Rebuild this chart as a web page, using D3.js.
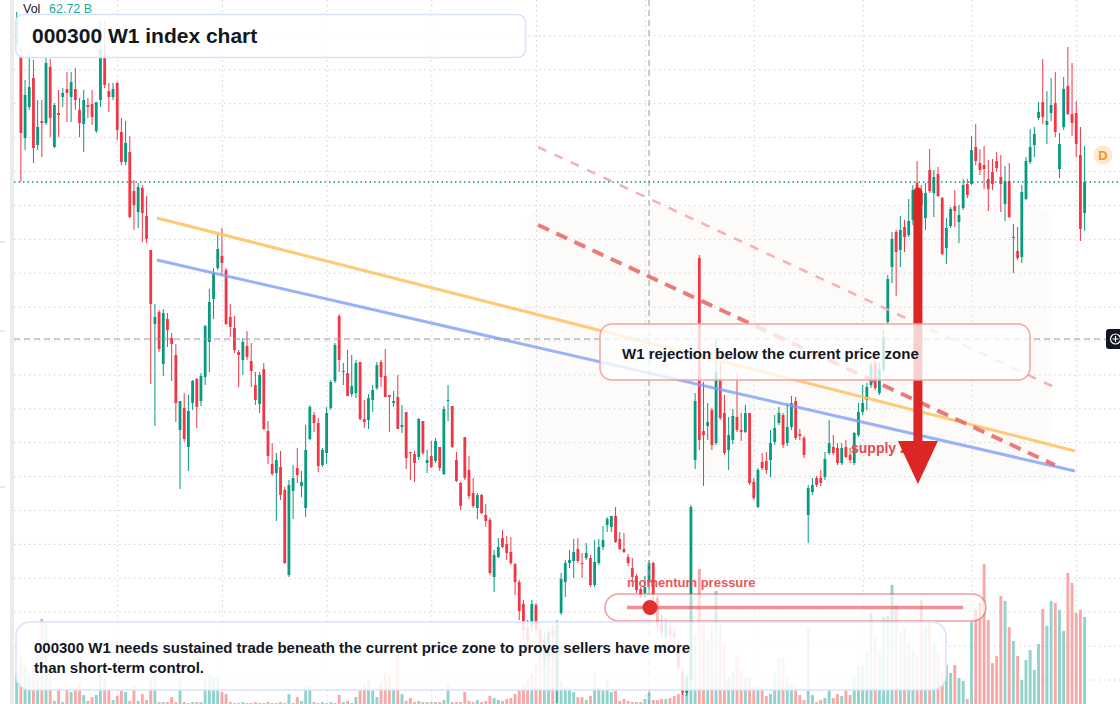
<!DOCTYPE html>
<html>
<head>
<meta charset="utf-8">
<script src="https://cdn.jsdelivr.net/npm/d3@7"></script>
<style>
  body { margin: 0; background: #fff; }
  svg { display: block; font-family: "Liberation Sans", Arial, Helvetica, sans-serif; }
</style>
</head>
<body>
<div id="chart"></div>
<script>
// weekly candles, 000300 W1 (index points)
const open = [3555,3543,3462,3493,3522,3455,3479,3477,3533,3453,
  3487,3503,3511,3503,3511,3490,3476,3495,3496,3469,
  3500,3542,3509,3503,3517,3468,3438,3448,3409,3388,
  3412,3384,3350,3276,3288,3236,3281,3262,3245,3170,
  3192,3153,3197,3221,3199,3223,3258,3301,3332,3344,
  3330,3283,3272,3248,3240,3254,3239,3215,3196,3231,
  3169,3136,3127,3133,3110,3025,3109,3132,3114,3092,
  3161,3185,3177,3135,3147,3192,3219,3284,3228,3227,
  3206,3207,3238,3181,3180,3200,3212,3238,3224,3205,
  3197,3203,3173,3188,3148,3146,3143,3179,3137,3144,
  3139,3153,3126,3199,3194,3140,3117,3163,3130,3107,
  3092,3105,3085,3080,3023,3043,3062,3056,3048,3036,
  3018,2996,2972,2973,2995,2970,2940,2943,2970,2910,
  2987,3018,3037,3039,3051,3037,3042,3042,3015,3037,
  3053,3075,3073,3084,3061,3051,3043,3032,3024,3011,
  3007,3017,3037,3002,2978,2963,2973,2967,2953,2928,
  2907,2920,3140,3342,3169,3174,3190,3157,3220,3187,
  3150,3160,3183,3170,3168,3187,3118,3093,3138,3139,
  3140,3158,3177,3185,3157,3173,3199,3166,3162,3085,
  3108,3122,3122,3123,3147,3153,3152,3137,3153,3145,
  3137,3165,3188,3200,3215,3237,3207,3230,3278,3333,
  3368,3350,3373,3365,3380,3417,3407,3382,3430,3407,
  3426,3402,3352,3374,3394,3378,3392,3416,3416,3453,
  3437,3435,3421,3428,3439,3423,3396,3419,3362,3349,
  3343,3401,3438,3455,3482,3498,3475,3487,3497,3431,
  3473,3514,3486,3487,3445,3387];

const high = [3588,3553,3520,3550,3540,3500,3500,3542,3541,3497,
  3510,3512,3528,3528,3532,3502,3510,3502,3510,3498,
  3580,3580,3517,3517,3518,3482,3479,3464,3420,3417,
  3415,3404,3350,3296,3290,3291,3287,3267,3256,3199,
  3207,3205,3220,3222,3227,3275,3311,3332,3367,3372,
  3332,3296,3284,3250,3262,3269,3257,3228,3228,3237,
  3179,3157,3147,3149,3113,3120,3135,3152,3129,3175,
  3195,3188,3182,3152,3193,3220,3257,3286,3237,3250,
  3245,3240,3238,3200,3206,3215,3238,3240,3251,3205,
  3209,3225,3195,3188,3148,3149,3182,3179,3150,3159,
  3162,3153,3194,3215,3194,3148,3118,3163,3144,3122,
  3107,3106,3096,3082,3050,3062,3070,3064,3063,3037,
  3020,3000,2980,3000,2997,2975,2968,2972,2975,2980,
  3027,3040,3050,3061,3062,3047,3057,3045,3060,3061,
  3074,3083,3084,3093,3068,3067,3046,3042,3026,3013,
  3024,3040,3038,3004,2985,2982,2978,2972,2960,2932,
  2926,3095,3207,3345,3218,3197,3192,3260,3238,3205,
  3183,3191,3227,3187,3195,3187,3122,3132,3147,3148,
  3170,3185,3193,3187,3197,3204,3203,3171,3164,3115,
  3122,3124,3130,3148,3180,3165,3157,3157,3160,3152,
  3168,3197,3215,3217,3238,3240,3237,3270,3325,3368,
  3370,3384,3380,3401,3415,3439,3415,3417,3451,3430,
  3433,3403,3382,3393,3410,3395,3421,3421,3464,3476,
  3451,3454,3440,3441,3448,3445,3434,3437,3376,3373,
  3415,3443,3471,3473,3498,3541,3509,3522,3528,3467,
  3523,3553,3537,3499,3473,3454];

const low = [3550,3418,3450,3490,3437,3450,3443,3475,3463,3452,
  3463,3493,3478,3478,3490,3463,3448,3482,3475,3467,
  3493,3512,3488,3500,3460,3435,3435,3382,3370,3372,
  3358,3357,3216,3174,3248,3224,3253,3219,3178,3111,
  3158,3129,3190,3172,3194,3215,3228,3281,3330,3325,
  3275,3263,3247,3213,3225,3240,3213,3195,3187,3170,
  3136,3124,3079,3100,3036,3023,3081,3117,3103,3083,
  3160,3168,3128,3133,3136,3190,3217,3228,3215,3204,
  3203,3202,3180,3172,3171,3188,3210,3213,3203,3168,
  3193,3171,3167,3131,3120,3118,3140,3145,3127,3132,
  3137,3129,3125,3179,3152,3118,3090,3120,3101,3092,
  3081,3086,3073,3025,3008,3042,3052,3040,3035,3005,
  2980,2960,2950,2968,2964,2940,2932,2938,2940,2897,
  2985,3003,3032,3022,3037,3022,3040,3013,3013,3035,
  3050,3068,3068,3057,3050,3047,3034,3020,3007,3002,
  3002,3010,3000,2968,2962,2960,2960,2955,2930,2905,
  2904,2915,3131,3150,3114,3160,3150,3155,3180,3145,
  3130,3156,3168,3159,3167,3115,3100,3092,3130,3126,
  3123,3155,3175,3152,3154,3170,3160,3160,3142,3057,
  3105,3113,3114,3120,3145,3145,3135,3135,3142,3137,
  3135,3163,3185,3190,3212,3210,3205,3228,3275,3317,
  3304,3333,3348,3363,3375,3400,3388,3370,3407,3383,
  3403,3345,3336,3372,3373,3357,3390,3402,3415,3435,
  3425,3411,3389,3410,3428,3388,3379,3382,3327,3340,
  3337,3400,3436,3443,3480,3476,3456,3479,3463,3422,
  3470,3485,3464,3443,3359,3369];

const close = [3580,3467,3505,3513,3452,3473,3477,3537,3482,3495,
  3485,3507,3507,3518,3500,3477,3500,3493,3483,3498,
  3550,3515,3503,3511,3470,3438,3457,3383,3395,3413,
  3387,3361,3296,3283,3251,3287,3270,3256,3197,3199,
  3161,3189,3219,3193,3224,3274,3298,3327,3351,3337,
  3276,3273,3250,3245,3258,3243,3229,3200,3225,3171,
  3144,3126,3140,3105,3037,3115,3122,3125,3118,3150,
  3193,3177,3134,3150,3187,3218,3255,3240,3229,3204,
  3214,3237,3181,3178,3202,3210,3235,3223,3203,3203,
  3199,3171,3175,3142,3147,3137,3181,3147,3140,3133,
  3159,3132,3191,3200,3153,3119,3094,3122,3104,3094,
  3105,3087,3079,3027,3045,3053,3053,3047,3037,3018,
  2989,2970,2960,2996,2970,2955,2960,2968,2964,2975,
  3021,3037,3040,3048,3039,3036,3047,3015,3038,3053,
  3060,3081,3084,3058,3051,3048,3037,3023,3010,3005,
  3013,3037,3006,2975,2967,2977,2965,2963,2933,2908,
  2923,3093,3199,3160,3165,3178,3155,3228,3182,3147,
  3165,3184,3170,3168,3187,3117,3102,3130,3132,3130,
  3157,3172,3187,3155,3173,3197,3162,3164,3145,3112,
  3115,3115,3117,3141,3157,3147,3137,3152,3143,3140,
  3167,3188,3197,3213,3235,3212,3230,3263,3321,3361,
  3348,3370,3363,3379,3410,3407,3395,3407,3409,3423,
  3404,3346,3372,3391,3389,3385,3415,3405,3450,3439,
  3430,3431,3411,3416,3432,3416,3419,3383,3363,3342,
  3408,3439,3453,3466,3488,3483,3479,3495,3468,3456,
  3511,3486,3477,3456,3371,3418];

// volume, billions
const volume = [22.3,34.6,27.4,21.6,28.1,35.3,61.2,57.6,22.3,2.2,
  10.1,1.4,10.1,8.6,12.2,15.1,6.5,2.2,5.0,6.5,
  24.5,18.7,10.1,2.9,5.8,9.4,8.6,2.2,13.0,2.2,
  7.2,2.9,18.7,22.3,1.4,1.4,1.4,5.0,1.4,19.4,
  1.4,0.7,1.4,1.4,1.4,18.7,20.9,19.4,20.2,8.6,
  7.2,1.4,0.7,0.7,1.4,0.7,0.7,1.4,0.7,0.7,
  1.4,0.7,0.7,1.4,0.7,7.2,0.7,5.0,2.2,13.0,
  13.7,1.4,0.7,1.4,0.7,1.4,0.7,6.5,1.4,2.2,
  0.7,5.0,9.4,13.7,18.0,9.4,5.0,15.1,22.3,20.2,
  10.1,35.3,7.2,2.2,4.3,1.4,2.2,1.4,1.4,1.4,
  1.4,1.4,2.9,14.4,1.4,1.4,1.4,8.6,2.2,1.4,
  2.9,1.4,2.2,5.8,4.3,2.9,2.2,3.6,4.3,7.2,
  10.8,14.4,18.0,21.6,28.8,32.4,46.1,51.8,38.9,59.0,
  16.6,12.2,12.2,8.6,5.0,5.0,2.9,5.8,22.3,12.2,
  10.1,17.3,8.6,9.4,2.2,3.6,2.2,1.4,1.4,1.4,
  3.6,7.9,2.9,2.9,3.6,3.6,4.3,5.8,7.2,23.0,
  19.4,62.6,50.4,97.2,58.3,46.1,56.2,81.4,59.0,43.9,
  19.4,23.0,35.3,24.5,19.4,19.4,12.2,12.2,12.2,5.8,
  7.2,22.3,33.1,33.1,19.4,15.1,12.2,6.5,2.9,55.4,
  6.5,1.4,2.9,4.3,10.1,4.3,7.2,5.8,10.1,6.5,
  20.2,27.4,28.1,37.4,65.5,48.2,38.9,62.6,63.4,85.7,
  71.3,51.8,55.4,44.6,38.9,34.6,74.9,56.2,58.3,43.9,
  36.7,22.3,28.1,22.3,28.1,18.7,16.6,3.6,59.0,68.4,
  72.7,100.8,60.5,29.5,34.6,77.8,74.2,55.4,45.4,34.6,
  17.3,31.7,38.9,24.5,43.2,68.4,56.2,74.2,72.7,67.7,
  52.6,94.3,87.1,65.5,67.7,62.72];

// chart furniture: week indices of the time grid, horizontal grid levels
const gridWeeks = [24, 49, 74, 99, 124, 150, 176, 202, 228, 253];
const gridLevels = d3.range(3564.6, 2900, -33.9);

// drawn studies: [week index, price]
const orangeTrend = [[33.5, 3382], [252.7, 3149]];
const blueTrend = [[33.5, 3340], [252.7, 3129]];
const redDashed = [[124.5, 3375], [247.9, 3135]];
const redDashedLight = [[124.5, 3453], [247.2, 3214]];
const supplyZone = { from: 121.9, to: 247.2, top: 3393, bottom: 3117 };
const arrowPath = { week: 215.2, from: 3408, to: 3116 };
const crosshair = { week: 151, price: 3261 };

const W = 1120, H = 704;
const UP = "#089981", DOWN = "#f23645";

const svg = d3.select("#chart").append("svg")
  .attr("width", W).attr("height", H);

const x = d3.scaleLinear().domain([0, close.length - 1]).range([16.7, 1084.6]);
const y = d3.scaleLinear().domain([2896, 3600]).range([H, 0]);
const yVol = d3.scaleLinear().domain([0, 100]).range([H, H - 139]);

// left scale strip
svg.append("rect").attr("x", 10).attr("y", 0).attr("width", 4).attr("height", H).attr("fill", "#ebebeb");
svg.selectAll(".ltick").data([242, 331, 487]).enter().append("line")
  .attr("x1", 0).attr("x2", 5).attr("y1", d => d).attr("y2", d => d)
  .attr("stroke", "#cfcfcf");

// grid
const gx = svg.append("g")
  .call(d3.axisBottom(x).tickValues(gridWeeks).tickSize(H).tickFormat(""));
const gy = svg.append("g").attr("transform", "translate(14,0)")
  .call(d3.axisRight(y).tickValues(gridLevels).tickSize(W - 14).tickFormat(""));
[gx, gy].forEach(g => {
  g.select(".domain").remove();
  g.selectAll("line").attr("stroke", "#cdd1d8").attr("stroke-dasharray", "1.5,3.5");
});

// supply zone shading
svg.append("rect")
  .attr("x", x(supplyZone.from)).attr("y", y(supplyZone.top))
  .attr("width", x(supplyZone.to) - x(supplyZone.from))
  .attr("height", y(supplyZone.bottom) - y(supplyZone.top))
  .attr("rx", 16).attr("fill", "#f3e2d0").attr("opacity", 0.13);

// volume
svg.append("g").selectAll("rect").data(volume).enter().append("rect")
  .attr("x", (d, i) => x(i) - 1.45)
  .attr("width", 2.9)
  .attr("y", d => yVol(d))
  .attr("height", d => H - yVol(d))
  .attr("fill", (d, i) => close[i] >= open[i] ? "#92d2cc" : "#f7a9a7");

// candles
const candles = svg.append("g").selectAll("g").data(close).enter().append("g");
candles.append("rect")
  .attr("x", (d, i) => x(i) - 0.5).attr("width", 1)
  .attr("y", (d, i) => y(high[i]))
  .attr("height", (d, i) => Math.max(1, y(low[i]) - y(high[i])))
  .attr("fill", (d, i) => d >= open[i] ? UP : DOWN);
candles.append("rect")
  .attr("x", (d, i) => x(i) - 1.4).attr("width", 2.8)
  .attr("y", (d, i) => y(Math.max(open[i], d)))
  .attr("height", (d, i) => Math.max(1, Math.abs(y(open[i]) - y(d))))
  .attr("fill", (d, i) => d >= open[i] ? UP : DOWN);

// trend lines
const line = d3.line().x(d => x(d[0])).y(d => y(d[1]));
svg.append("path").attr("d", line(orangeTrend)).attr("fill", "none")
  .attr("stroke", "#ffbf5e").attr("stroke-width", 3).attr("opacity", 0.85);
svg.append("path").attr("d", line(blueTrend)).attr("fill", "none")
  .attr("stroke", "#7f9ff5").attr("stroke-width", 3).attr("opacity", 0.8);
svg.append("path").attr("d", line(redDashedLight)).attr("fill", "none")
  .attr("stroke", "#f2a9a9").attr("stroke-width", 2.5).attr("stroke-dasharray", "9,9").attr("opacity", 0.9);
svg.append("path").attr("d", line(redDashed)).attr("fill", "none")
  .attr("stroke", "#e86464").attr("stroke-width", 4).attr("stroke-dasharray", "12,8").attr("opacity", 0.85);

// crosshair
svg.append("line").attr("x1", x(crosshair.week)).attr("x2", x(crosshair.week))
  .attr("y1", 0).attr("y2", H)
  .attr("stroke", "#9598a1").attr("stroke-dasharray", "6,4");
svg.append("line").attr("x1", 14).attr("x2", 1106)
  .attr("y1", y(crosshair.price)).attr("y2", y(crosshair.price))
  .attr("stroke", "#9598a1").attr("stroke-width", 1.2).attr("stroke-dasharray", "6,4");

// last price line
const last = close[close.length - 1];
svg.append("line").attr("x1", 14).attr("x2", W)
  .attr("y1", y(last)).attr("y2", y(last))
  .attr("stroke", UP).attr("stroke-width", 1.5).attr("stroke-dasharray", "1.5,3");

// supply zone label
svg.append("text").attr("x", 851).attr("y", 453)
  .attr("font-size", 14).attr("font-weight", "bold").attr("fill", "#e5484d")
  .text("supply zone");

// arrow
const ax = x(arrowPath.week), tipY = y(arrowPath.to), headTop = tipY - 43;
svg.append("line").attr("x1", ax).attr("x2", ax)
  .attr("y1", y(arrowPath.from)).attr("y2", headTop + 2)
  .attr("stroke", "#dc2626").attr("stroke-width", 9).attr("stroke-linecap", "round");
svg.append("path")
  .attr("d", `M${ax - 20},${headTop} L${ax + 20},${headTop} L${ax},${tipY} Z`)
  .attr("fill", "#dc2626");

// callout
svg.append("rect").attr("x", 600).attr("y", 324).attr("width", 430).attr("height", 56).attr("rx", 12)
  .attr("fill", "rgba(255,255,255,0.78)").attr("stroke", "#f2a3a3").attr("stroke-width", 1.5);
svg.append("text").attr("x", 622).attr("y", 359)
  .attr("font-size", 15).attr("font-weight", "bold").attr("fill", "#131722")
  .text("W1 rejection below the current price zone");

// momentum pressure
svg.append("text").attr("x", 627).attr("y", 587)
  .attr("font-size", 13).attr("font-weight", "bold").attr("fill", "#e5484d").attr("opacity", 0.9)
  .text("momentum pressure");
svg.append("rect").attr("x", 605).attr("y", 594).attr("width", 381).attr("height", 27).attr("rx", 13.5)
  .attr("fill", "rgba(255,255,255,0.65)").attr("stroke", "rgba(229,72,77,0.55)").attr("stroke-width", 1.5);
svg.append("line").attr("x1", 627).attr("x2", 963).attr("y1", 607.5).attr("y2", 607.5)
  .attr("stroke", "rgba(229,72,77,0.6)").attr("stroke-width", 3.5);
svg.append("circle").attr("cx", 650).attr("cy", 607.5).attr("r", 7.5).attr("fill", "#e03131");

// bottom note
svg.append("rect").attr("x", 16).attr("y", 622).attr("width", 930).attr("height", 68).attr("rx", 14)
  .attr("fill", "rgba(255,255,255,0.86)").attr("stroke", "#d6e3fa").attr("stroke-width", 1.5);
const note = svg.append("text").attr("font-size", 15).attr("font-weight", "bold").attr("fill", "#131722");
note.append("tspan").attr("x", 34).attr("y", 653)
  .text("000300 W1 needs sustained trade beneath the current price zone to prove sellers have more");
note.append("tspan").attr("x", 34).attr("y", 673).text("than short-term control.");

// title
svg.append("rect").attr("x", 15.5).attr("y", 14.5).attr("width", 510).attr("height", 43).attr("rx", 8)
  .attr("fill", "rgba(255,255,255,0.86)").attr("stroke", "#d6e3fa").attr("stroke-width", 1.5);
svg.append("text").attr("x", 32).attr("y", 43)
  .attr("font-size", 21).attr("font-weight", "bold").attr("fill", "#131722")
  .text("000300 W1 index chart");

// volume legend
svg.append("text").attr("x", 23).attr("y", 13).attr("font-size", 12.5).attr("fill", "#131722").text("Vol");
svg.append("text").attr("x", 49).attr("y", 13).attr("font-size", 12.5).attr("fill", "#22ab94")
  .text(d3.format(".2f")(volume[volume.length - 1]) + " B");

// D badge
svg.append("circle").attr("cx", 1103).attr("cy", 155).attr("r", 9.5).attr("fill", "#fde8d0");
svg.append("text").attr("x", 1103).attr("y", 160).attr("text-anchor", "middle")
  .attr("font-size", 13).attr("font-weight", "bold").attr("fill", "#f7931a").text("D");

// crosshair add button
const by = y(crosshair.price);
svg.append("rect").attr("x", 1106).attr("y", by - 10).attr("width", 16).attr("height", 20).attr("rx", 3).attr("fill", "#131722");
svg.append("circle").attr("cx", 1115.5).attr("cy", by).attr("r", 5).attr("fill", "none").attr("stroke", "#fff").attr("stroke-width", 1.2);
svg.append("path").attr("d", `M1112.5,${by} h6 M1115.5,${by - 3} v6`).attr("stroke", "#fff").attr("stroke-width", 1.2);
</script>
</body>
</html>
